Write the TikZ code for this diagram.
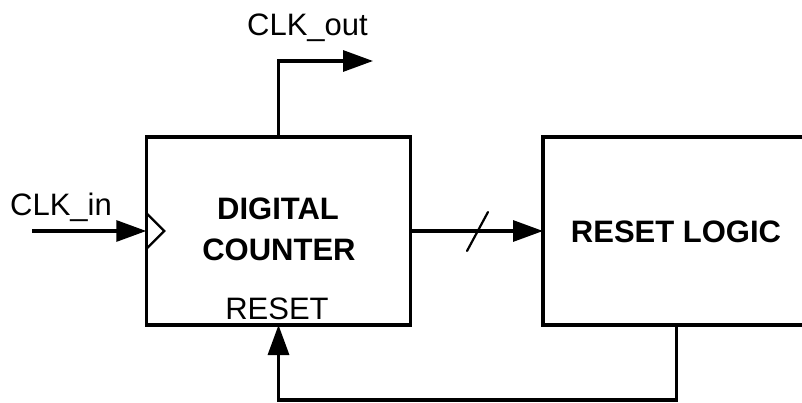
\documentclass[tikz,border=0pt]{standalone}
\usepackage{fontspec}
\setmainfont{Liberation Sans}
\usetikzlibrary{arrows.meta,calc}
\begin{document}
\begin{tikzpicture}[x=1pt,y=-1pt,
  wire/.style={line width=3.2pt,-{Triangle[length=30pt,width=21pt]}},
  blockbox/.style={draw,line width=3.2pt,rectangle,inner sep=0pt,outer sep=0pt},
  lbl/.style={font=\fontsize{31}{36}\selectfont,anchor=base,inner sep=0pt},
  blbl/.style={font=\fontsize{31}{36}\selectfont\bfseries,anchor=base,inner sep=0pt}]
\clip (0,0) rectangle (802,403);
\useasboundingbox (0,0) rectangle (802,403);
\node[blockbox,minimum width=264.5pt,minimum height=188pt] (counter) at (278.5,231) {};
\node[blockbox,minimum width=267pt,minimum height=188pt] (reset) at (676.5,231) {};
\node[lbl] (clkout) at (307.5,36) {CLK\_out};
\node[lbl] (clkin) at (61,215) {CLK\_in};
\node[blbl] (t1) at (278,219) {DIGITAL};
\node[blbl] (t2) at (279,260) {COUNTER};
\node[lbl] (rst) at (277,319) {RESET};
\node[blbl] (rl) at (676,242) {RESET LOGIC};
\draw[line width=2.4pt] ($(counter.west)+(0,-18)$) -- ++(18,18) -- ++(-18,18);
\coordinate (inStart) at (32,231);
\draw[wire] (inStart) -- (counter.west);
\coordinate (outEnd) at (373,61);
\draw[wire] (counter.north) |- (outEnd);
\draw[wire] (counter.east) -- (reset.west);
\draw[line width=2.2pt,line cap=round] (467,251) -- (488,212);
\draw[wire] (reset.south) -- ++(0,75) -| (counter.south);
\end{tikzpicture}
\end{document}
